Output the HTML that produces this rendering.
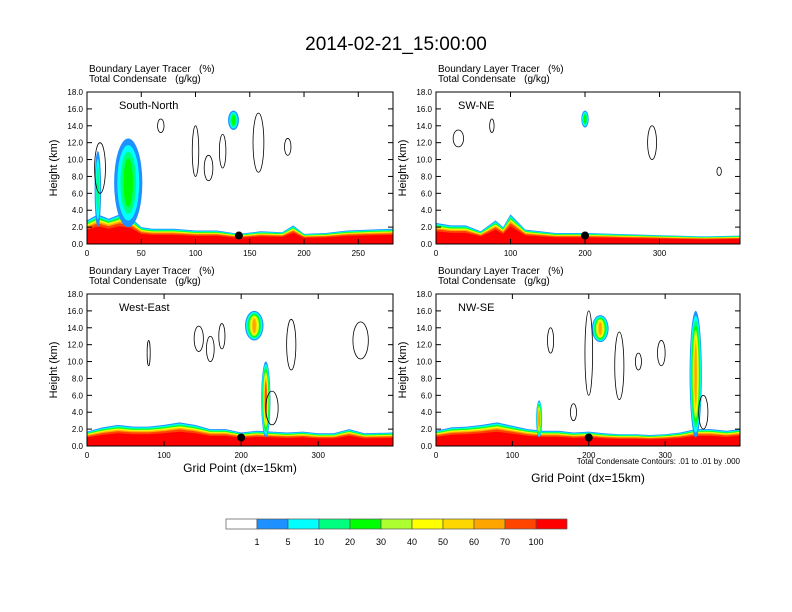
<!DOCTYPE html>
<html><head><meta charset="utf-8"><style>
body{margin:0;background:#fff;}
svg{display:block;font-family:"Liberation Sans",Arial,sans-serif;}
text{white-space:pre;}
</style></head><body>
<svg id="chart" width="792" height="612" viewBox="0 0 792 612" xmlns="http://www.w3.org/2000/svg">
<text x="396" y="50" font-size="19" text-anchor="middle">2014-02-21_15:00:00</text>
<g id="panels"></g>
<g id="colorbar"></g>
</svg>
<script>
const colorLevels = ["1","5","10","20","30","40","50","60","70","100"];
const colorFills = ["#ffffff","#1e90ff","#00ffff","#00ff7f","#00ff00","#adff2f","#ffff00","#ffd700","#ffa500","#ff4500","#ff0000"];
const panelNames = ["South-North","SW-NE","West-East","NW-SE"];
const panelXMax = [282, 408, 397, 398];
const panelXTicks = [[0,50,100,150,200,250],[0,100,200,300],[0,100,200,300],[0,100,200,300]];
const yTicks = [0,2,4,6,8,10,12,14,16,18];
const blGp = [[0,10,20,30,40,50,60,80,100,120,140,160,180,190,200,220,240,260,282],
              [0,20,40,60,80,90,100,120,140,160,200,240,280,320,360,408],
              [0,20,40,60,80,100,120,140,160,180,200,220,260,280,300,320,340,360,397],
              [0,20,40,60,80,100,120,140,160,180,200,220,240,260,280,300,320,340,360,380,398]];
const blTop = [[2.8,3.5,3.0,3.5,3.2,2.0,1.8,1.8,1.6,1.6,1.2,1.5,1.4,2.2,1.2,1.3,1.6,1.7,1.8],
               [2.5,2.2,2.2,1.5,2.8,2.0,3.5,1.7,1.5,1.3,1.3,1.2,1.1,1.0,0.9,1.0],
               [1.7,2.2,2.5,2.3,2.3,2.5,2.8,2.5,2.0,2.0,1.6,1.8,1.6,1.7,1.5,1.5,2.0,1.5,1.6],
               [1.8,2.2,2.3,2.5,2.8,2.4,2.0,1.8,1.8,1.6,1.7,1.5,1.4,1.4,1.3,1.4,1.6,2.0,2.0,1.8,2.0]];
const plumeCenter = [[10,38,135],[200],[232,217],[135,215,340]];
const plumeHalf = [[3,13,5],[5],[6,12],[4,11,8]];
const plumeBottom = [[2,2,13.5],[13.8],[1,12.5],[1,12.3],[1]];
const plumeBottomFix = [[2,2,13.5],[13.8],[1,12.5],[1,12.3,1]];
const plumeTop = [[11,12.5,15.8],[15.8],[10,16],[5.4,15.5,16]];
const plumeLevel = [[3,4,4],[4],[9,8],[8,8,8]];
// contour outlines: center gp, center km, half-width gp, half-height km
const ctrX = [[12,68,100,112,125,158,185],[30,75,290,380],[80,160,145,175,265,355,240],[150,200,240,265,295,350,180]];
const ctrY = [[9,14,11,9,11,12,11.5],[12.5,14,12,8.6],[11,11.5,12.7,13,12,12.5,4.5],[12.5,11,9.5,10,11,4,4]];
const ctrW = [[5,3,3,4,3,5,3],[7,3,6,3],[2,5,6,4,6,10,8],[4,5,6,4,5,6,4]];
const ctrH = [[3,0.8,3,1.5,2,3.5,1],[1,0.8,2,0.5],[1.5,1.5,1.5,1.5,3,2.2,2],[1.5,5,4,1,1.5,2,1]];
const dotGp = [140,200,200,200];
const px = [[87,393,92,244],[436,740,92,244],[87,393,294,446],[436,740,294,446]];
const NS="http://www.w3.org/2000/svg";
function el(t,a,p){const e=document.createElementNS(NS,t);for(const k in a)e.setAttribute(k,a[k]);p.appendChild(e);return e;}
const root=document.getElementById('panels');
for(let p=0;p<4;p++){
  const [x0,x1,y0,y1]=px[p];
  const xs=v=>x0+(x1-x0)*v/panelXMax[p];
  const ys=v=>y1-(y1-y0)*v/18;
  const g=el('g',{},root);
  
  
  const t1=el('text',{x:x0+2,y:y0-20,'font-size':10},g);t1.textContent='Boundary Layer Tracer   (%)';
  
  
  const t2=el('text',{x:x0+2,y:y0-10,'font-size':10},g);t2.textContent='Total Condensate   (g/kg)';
  
  
  const fr=[1,0.95,0.91,0.87,0.84,0.81,0.78,0.75,0.7,0.6];
  for(let b=0;b<10;b++){
    let d='M'+xs(0)+','+ys(0);
    for(let i=0;i<blGp[p].length;i++) d+='L'+xs(blGp[p][i]).toFixed(1)+','+ys(blTop[p][i]*fr[b]).toFixed(1);
    d+='L'+xs(panelXMax[p])+','+ys(0)+'Z';
    const pa=el('path',{d:d,fill:colorFills[b+1]},g);
    
    
  }
  for(let k=0;k<plumeCenter[p].length;k++){
    const c=plumeCenter[p][k],h=plumeHalf[p][k],bt=plumeBottomFix[p][k],tp=plumeTop[p][k],lv=plumeLevel[p][k];
    for(let b=1;b<=lv;b++){
      const f=1-(b-1)/(lv+0.5);
      const mid=(bt+tp)/2, hh=(tp-bt)/2*(1-0.6*(b-1)/lv);
      const e=el('ellipse',{cx:xs(c),cy:ys(mid),rx:Math.max(1,xs(c+h*f)-xs(c)),ry:ys(mid-hh)-ys(mid),fill:colorFills[b]},g);
      
      
    }
  }
  for(let k=0;k<ctrX[p].length;k++){
    const e=el('ellipse',{cx:xs(ctrX[p][k]),cy:ys(ctrY[p][k]),rx:xs(ctrW[p][k])-xs(0),ry:ys(0)-ys(ctrH[p][k]),fill:'none',stroke:'#000','stroke-width':0.8},g);
    
    
  }
  const dot=el('circle',{cx:xs(dotGp[p]),cy:ys(1),r:4,fill:'#000'},g);
  
  
  const fr2=el('rect',{x:x0,y:y0,width:x1-x0,height:y1-y0,fill:'none',stroke:'#000','stroke-width':1},g);
  
  
  for(const v of yTicks){
    el('line',{x1:x0,x2:x0+5,y1:ys(v),y2:ys(v),stroke:'#000'},g);
    el('line',{x1:x1,x2:x1-5,y1:ys(v),y2:ys(v),stroke:'#000'},g);
    const tl=el('text',{x:x0-4,y:ys(v)+3,'font-size':8,'text-anchor':'end'},g);tl.textContent=v.toFixed(1);
    
    
  }
  for(const v of panelXTicks[p]){
    el('line',{x1:xs(v),x2:xs(v),y1:y1,y2:y1-5,stroke:'#000'},g);
    el('line',{x1:xs(v),x2:xs(v),y1:y0,y2:y0+5,stroke:'#000'},g);
    const tl=el('text',{x:xs(v),y:y1+12,'font-size':8,'text-anchor':'middle'},g);tl.textContent=v;
    
    
  }
  const yt=el('text',{x:0,y:0,'font-size':11,'text-anchor':'middle',transform:`translate(${x0-30},${(y0+y1)/2}) rotate(-90)`},g);yt.textContent='Height (km)';
  
  
  const nm=el('text',{x:x0+ (p%2?22:32),y:y0+17,'font-size':11},g);nm.textContent=panelNames[p];
  
  
  if(p>=2){
    const xt=el('text',{x:(x0+x1)/2,y:y1+26+(p==3?10:0),'font-size':12,'text-anchor':'middle'},g);xt.textContent='Grid Point (dx=15km)';
    
    
  }
  if(p==3){
    const ct=el('text',{x:x1,y:y1+18,'font-size':8,'text-anchor':'end'},g);ct.textContent='Total Condensate Contours: .01 to .01 by .000';
    
    
  }
}
const cb=document.getElementById('colorbar');
const cbx=226,cbw=31,cby=519;
for(let i=0;i<colorFills.length;i++){
  const r=el('rect',{x:cbx+i*cbw,y:cby,width:cbw,height:10,fill:colorFills[i],stroke:'#555','stroke-width':0.7},cb);
  
  
}
for(let i=0;i<colorLevels.length;i++){
  const t=el('text',{x:cbx+(i+1)*cbw,y:545,'font-size':9,'text-anchor':'middle'},cb);t.textContent=colorLevels[i];
  
  
}
</script>
</body></html>
